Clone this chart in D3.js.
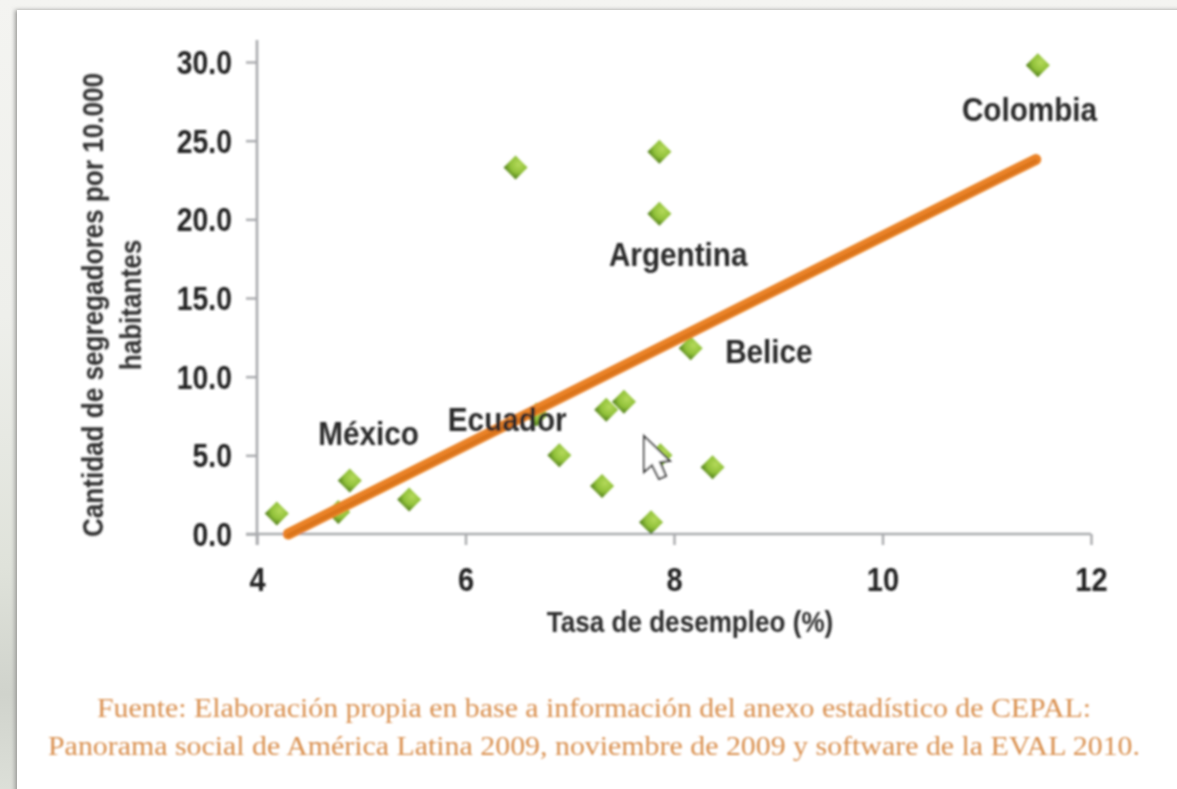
<!DOCTYPE html>
<html><head><meta charset="utf-8">
<script src="https://cdnjs.cloudflare.com/ajax/libs/d3/7.8.5/d3.min.js"></script>
<style>html,body{margin:0;padding:0;background:#fff;overflow:hidden}svg{display:block}</style>
</head><body><svg id="c" width="1177" height="789"></svg>
<script>
const unemployment=[4.19,4.78,4.89,5.46,6.48,6.68,6.9,7.31,7.35,7.52,7.78,7.86,7.86,7.87,8.16,8.37,11.49];
const recyclers=[1.3,1.4,3.4,2.2,23.3,7.6,5.0,3.05,7.9,8.4,0.75,24.3,20.35,5.0,11.8,4.25,29.8];
const trendX=[4.3,11.47];
const trendY=[0.0,23.8];
const xTicks=[4,6,8,10,12];
const yTicks=[0,5,10,15,20,25,30];
const countries=["Colombia","Argentina","Belice","México","Ecuador"];
const countryX=[11.41,8.04,8.91,5.07,6.4];
const countryY=[27.0,17.75,11.6,6.42,7.25];
const xTitle="Tasa de desempleo (%)";
const yTitle=["Cantidad de segregadores por 10.000","habitantes"];
const source=["Fuente: Elaboración propia en base a información del anexo estadístico de CEPAL:",
"Panorama social de América Latina 2009, noviembre de 2009 y software de la EVAL 2010."];

const svg=d3.select("#c"),W=1177,H=789;
const defs=svg.append("defs");
const blur=defs.append("filter").attr("id","b").attr("filterUnits","userSpaceOnUse").attr("x",0).attr("y",0).attr("width",W).attr("height",H);
blur.append("feGaussianBlur").attr("stdDeviation",1.0);
const soft=defs.append("filter").attr("id","s").attr("x","-5%").attr("y","-5%").attr("width","110%").attr("height","110%");
soft.append("feGaussianBlur").attr("stdDeviation",2);
const lg=defs.append("radialGradient").attr("id","d").attr("cx","0.62").attr("cy","0.38").attr("r","0.62");
lg.append("stop").attr("offset","0").attr("stop-color","#b4d95a");
lg.append("stop").attr("offset","0.55").attr("stop-color","#92c23a");
lg.append("stop").attr("offset","1").attr("stop-color","#4c7a18");
const bg=defs.append("linearGradient").attr("id","side").attr("x1","0").attr("y1","0").attr("x2","0").attr("y2","1");
[[0,"#f4f4f1"],[0.4,"#eeefeb"],[0.72,"#dfe2da"],[0.88,"#d0d3cc"],[1,"#dcdfd8"]].forEach(s=>bg.append("stop").attr("offset",s[0]).attr("stop-color",s[1]));

svg.append("rect").attr("width",W).attr("height",H).attr("fill","url(#side)");
svg.append("rect").attr("x",15).attr("y",10).attr("width",W).attr("height",H).attr("fill","#9a9a97").attr("filter","url(#s)");
svg.append("rect").attr("x",17).attr("y",10).attr("width",W).attr("height",H).attr("fill","#ffffff");

const x=d3.scaleLinear().domain([4,12]).range([257,1091]);
const y=d3.scaleLinear().domain([0,30]).range([534,62]);
const g=svg.append("g").attr("filter","url(#b)");
const axisColor="#a9aaad";
const F="'Liberation Sans',Arial,sans-serif";

const ax=g.append("g").attr("transform",`translate(0,${y(0)})`).call(d3.axisBottom(x).tickValues(xTicks).tickFormat(d3.format("d")).tickSize(11).tickPadding(22));
const ay=g.append("g").attr("transform",`translate(${x(4)},0)`).call(d3.axisLeft(y).tickValues(yTicks).tickFormat(d3.format(".1f")).tickSize(11).tickPadding(14));
ax.select(".domain").remove();ay.select(".domain").remove();
g.append("line").attr("x1",x(4)-11).attr("x2",x(12)).attr("y1",y(0)).attr("y2",y(0)).attr("stroke",axisColor).attr("stroke-width",2.6);
g.append("line").attr("x1",x(4)).attr("x2",x(4)).attr("y1",40).attr("y2",y(0)+11).attr("stroke",axisColor).attr("stroke-width",2.6);
[ax,ay].forEach(a=>{a.selectAll("line").attr("stroke",axisColor).attr("stroke-width",2.4);
 a.selectAll("text").attr("fill","#222").style("font-family",F).style("font-weight",700).style("font-size","33px").attr("transform",null);});
ax.selectAll("text").each(function(){const t=d3.select(this),Y=+t.attr("y");
 t.attr("y",0).attr("transform",`translate(0,${Y}) scale(0.88,1)`).attr("dy","0.72em");});
ay.selectAll("text").each(function(){const t=d3.select(this),X=+t.attr("x");
 t.attr("x",0).attr("transform",`translate(${X},0) scale(0.86,1)`).attr("dy","0.35em");});

// points
const pts=d3.range(unemployment.length).map(i=>({x:unemployment[i],y:recyclers[i]}));
const r=12;
g.append("g").selectAll("path").data(pts).join("path")
 .attr("transform",d=>`translate(${x(d.x)},${y(d.y)})`)
 .attr("d",`M0,${-r}L${r},0L0,${r}L${-r},0Z`)
 .attr("fill","url(#d)");

// trend
g.append("line").attr("x1",x(trendX[0])).attr("y1",y(trendY[0])).attr("x2",x(trendX[1])).attr("y2",y(trendY[1]))
 .attr("stroke","#ea8226").attr("stroke-width",11).attr("stroke-linecap","round");
g.append("line").attr("x1",x(trendX[0])).attr("y1",y(trendY[0])+1.5).attr("x2",x(trendX[1])).attr("y2",y(trendY[1])+1.5)
 .attr("stroke","#cf6a14").attr("stroke-width",4).attr("stroke-linecap","round").attr("opacity",.6);

// labels
countries.forEach((c,i)=>{
 g.append("text").text(c).attr("transform",`translate(${x(countryX[i])},${y(countryY[i])}) scale(0.9,1)`)
  .attr("text-anchor","middle").attr("dy","0.35em").attr("fill","#2a2a2a")
  .style("font-family",F).style("font-weight",700).style("font-size","33px");
});

// titles
g.append("text").text(xTitle).attr("transform","translate(690,622) scale(0.9,1)").attr("text-anchor","middle").attr("dy","0.35em")
 .attr("fill","#2e2e2e").style("font-family",F).style("font-weight",700).style("font-size","29px");
yTitle.forEach((t,i)=>{
 g.append("text").text(t).attr("transform",`translate(${93+i*38},305) rotate(-90) scale(0.9,1)`).attr("text-anchor","middle").attr("dy","0.35em")
 .attr("fill","#2e2e2e").style("font-family",F).style("font-weight",700).style("font-size","29px");
});

// cursor
g.append("path").attr("d","M644,436 L644,472 L652,465 L659,479 L666,476 L660,462 L670,461 Z")
 .attr("fill","#fff").attr("stroke","#444").attr("stroke-width",2);

// source
source.forEach((t,i)=>{
 g.append("text").text(t).attr("x",594).attr("y",717+i*38).attr("text-anchor","middle")
 .attr("textLength",i?1092:994).attr("lengthAdjust","spacingAndGlyphs")
 .attr("fill","#d98f4e").style("font-family","'Liberation Serif',serif").style("font-size","28px");
});
</script></body></html>
